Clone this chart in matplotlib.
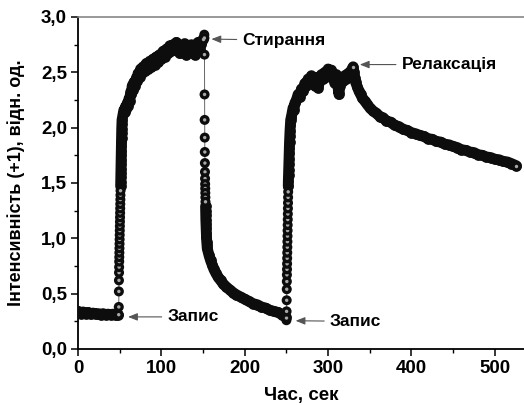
import numpy as np
import matplotlib.pyplot as plt
from matplotlib.ticker import MultipleLocator, FixedLocator, FixedFormatter

plt.rcParams['font.family'] = ['Liberation Sans', 'DejaVu Sans']
plt.rcParams['font.weight'] = 'bold'

# -----------------------------
# data (time in s, intensity in rel. units)
t_base = [0, 3, 6, 9, 12, 15, 18, 21, 24, 27, 30, 33, 36, 39, 42, 45, 48]
v_base = [0.34, 0.32, 0.335, 0.32, 0.33, 0.315, 0.325, 0.315, 0.32, 0.31, 0.32,
          0.31, 0.315, 0.31, 0.315, 0.305, 0.31]

t_rise1 = [48.8, 48.9, 49.0, 49.1, 49.2, 49.3, 49.4, 49.5, 49.6, 49.7, 49.8, 49.9,
           50.0, 50.1, 50.2, 50.3, 50.4, 50.5, 50.6, 50.7, 50.8, 50.9, 51.0, 51.1,
           51.2, 51.3, 51.4, 51.5, 51.6, 51.7, 51.8, 51.9, 52.0, 52.1, 52.2, 52.3,
           52.4, 52.6, 52.8]
v_rise1 = [0.31, 0.38, 0.52, 0.62, 0.69, 0.74, 0.79, 0.83, 0.87, 0.91, 0.95, 0.99,
           1.03, 1.07, 1.11, 1.15, 1.19, 1.23, 1.27, 1.31, 1.35, 1.39, 1.43, 1.47,
           1.51, 1.55, 1.59, 1.63, 1.67, 1.71, 1.75, 1.79, 1.83, 1.87, 1.91, 1.95,
           1.99, 2.03, 2.07]

t_plat1 = [54, 55, 56, 57, 58, 59, 60, 61, 62, 63, 64, 65, 66, 67, 68, 70, 71, 72,
           74, 75, 77, 78, 80, 82, 84, 86, 88, 90, 92, 94, 96, 98, 100, 102, 104,
           106, 108, 110, 112, 114, 116, 118, 120, 122, 124, 126, 128, 130, 132,
           134, 136, 138, 140, 142, 144, 146, 148, 150]
v_plat1 = [2.12, 2.16, 2.14, 2.19, 2.17, 2.22, 2.20, 2.26, 2.24, 2.32, 2.30, 2.38,
           2.34, 2.41, 2.38, 2.45, 2.42, 2.49, 2.46, 2.53, 2.49, 2.55, 2.51, 2.58,
           2.53, 2.60, 2.55, 2.62, 2.57, 2.64, 2.59, 2.66, 2.62, 2.69, 2.64, 2.71,
           2.67, 2.74, 2.69, 2.75, 2.70, 2.77, 2.72, 2.67, 2.74, 2.70, 2.76, 2.66,
           2.72, 2.69, 2.75, 2.71, 2.66, 2.73, 2.77, 2.70, 2.76, 2.80]

t_drop = [151.5, 151.6, 151.7, 151.8, 151.9, 152.0, 152.1, 152.2, 152.3, 152.4,
          152.5, 152.6, 152.7, 152.8, 152.9, 153.0, 153.1, 153.2, 153.3, 153.5,
          153.7, 153.9, 154.1, 154.4, 154.7, 155, 157, 159, 161, 163, 165, 168,
          171, 174, 178, 182, 186, 190, 195, 200, 205, 210, 215, 220, 225, 230,
          235, 240, 245, 249]
v_drop = [2.84, 2.81, 2.66, 2.30, 2.07, 1.91, 1.78, 1.68, 1.60, 1.54, 1.49, 1.45,
          1.41, 1.37, 1.33, 1.29, 1.25, 1.21, 1.17, 1.13, 1.09, 1.05, 1.01, 0.97,
          0.94, 0.91, 0.85, 0.80, 0.76, 0.72, 0.69, 0.65, 0.62, 0.59, 0.56, 0.535,
          0.51, 0.49, 0.47, 0.45, 0.43, 0.41, 0.40, 0.38, 0.37, 0.35, 0.34, 0.33,
          0.31, 0.29]

t_rise2 = [250.0, 250.1, 250.2, 250.3, 250.4, 250.5, 250.6, 250.7, 250.8, 250.9,
           251.0, 251.1, 251.2, 251.3, 251.4, 251.5, 251.6, 251.7, 251.8, 251.9,
           252.0, 252.1, 252.2, 252.3, 252.5, 252.7, 252.9, 253.1, 253.3, 253.5,
           253.7, 254.0, 254.3, 254.7, 255.1]
v_rise2 = [0.26, 0.28, 0.34, 0.44, 0.54, 0.61, 0.67, 0.72, 0.77, 0.82, 0.87, 0.92,
           0.97, 1.02, 1.07, 1.12, 1.17, 1.22, 1.27, 1.32, 1.37, 1.42, 1.47, 1.52,
           1.57, 1.62, 1.67, 1.72, 1.77, 1.82, 1.87, 1.92, 1.97, 2.02, 2.07]

t_plat2 = [256, 257, 258, 259, 260, 262, 264, 266, 268, 270, 272, 274, 276, 278,
           280, 282, 284, 286, 288, 290, 292, 294, 296, 298, 300, 302, 304, 306,
           308, 310, 311, 312, 313, 314, 316, 318, 320, 322, 324, 326, 328, 330]
v_plat2 = [2.10, 2.14, 2.18, 2.16, 2.22, 2.25, 2.30, 2.28, 2.35, 2.33, 2.40, 2.38,
           2.44, 2.41, 2.47, 2.43, 2.38, 2.45, 2.36, 2.43, 2.48, 2.44, 2.50, 2.46,
           2.53, 2.49, 2.52, 2.46, 2.40, 2.48, 2.43, 2.36, 2.30, 2.38, 2.45, 2.42,
           2.47, 2.44, 2.49, 2.46, 2.52, 2.55]

t_relax = [331, 332, 333, 335, 337, 339, 341, 344, 347, 350, 354, 358, 362, 366,
           370, 375, 380, 385, 390, 395, 400, 405, 410, 415, 420, 425, 430, 435,
           440, 445, 450, 455, 460, 465, 470, 475, 480, 485, 490, 495, 500, 505,
           510, 515, 520, 526]
v_relax = [2.50, 2.45, 2.41, 2.37, 2.33, 2.30, 2.27, 2.24, 2.21, 2.18, 2.15, 2.13,
           2.10, 2.09, 2.06, 2.05, 2.02, 2.01, 1.985, 1.975, 1.955, 1.945, 1.93,
           1.92, 1.90, 1.895, 1.875, 1.87, 1.85, 1.845, 1.83, 1.82, 1.80, 1.795,
           1.78, 1.775, 1.755, 1.75, 1.735, 1.73, 1.715, 1.71, 1.695, 1.69, 1.675,
           1.655]

x_ticks = [0, 100, 200, 300, 400, 500]
x_ticklabels = ['0', '100', '200', '300', '400', '500']
y_ticks = [0.0, 0.5, 1.0, 1.5, 2.0, 2.5, 3.0]
y_ticklabels = ['0,0', '0,5', '1,0', '1,5', '2,0', '2,5', '3,0']

# labels: (text, arrow tip x, tip y, text x, text y)
notes = [
    ('Стирання', 160, 2.80, 197, 2.79),
    ('Релаксація', 338, 2.57, 388, 2.57),
    ('Запис', 60, 0.29, 107, 0.29),
    ('Запис', 261, 0.255, 302, 0.25),
]

# -----------------------------
t_all = np.concatenate([t_base, t_rise1, t_plat1, t_drop, t_rise2, t_plat2, t_relax])
v_all = np.concatenate([v_base, v_rise1, v_plat1, v_drop, v_rise2, v_plat2, v_relax])

# parts where the points sit so close that they merge into a solid band
t_r1, v_r1 = np.array(t_rise1), np.array(v_rise1)
t_dr, v_dr = np.array(t_drop), np.array(v_drop)
t_r2, v_r2 = np.array(t_rise2), np.array(v_rise2)
bands = [
    (np.array(t_base), np.array(v_base)),
    (np.concatenate([t_r1[v_r1 > 1.45], t_plat1]), np.concatenate([v_r1[v_r1 > 1.45], v_plat1])),
    (t_dr[t_dr >= 153], v_dr[t_dr >= 153]),
    (np.concatenate([t_r2[v_r2 > 1.45], t_plat2, t_relax]),
     np.concatenate([v_r2[v_r2 > 1.45], v_plat2, v_relax])),
]
# steep parts drawn as single balls with a highlight
t_jump = np.concatenate([t_r1[v_r1 <= 1.45], t_dr[t_dr < 153], t_r2[v_r2 <= 1.45]])
v_jump = np.concatenate([v_r1[v_r1 <= 1.45], v_dr[t_dr < 153], v_r2[v_r2 <= 1.45]])

fig = plt.figure(figsize=(5.24, 4.05), dpi=100)
ax = fig.add_axes([0.1489, 0.1383, 0.8511, 0.8198])

ax.plot(t_all, v_all, color='#666666', lw=0.7, zorder=1)

for bt, bv in bands:
    ax.plot(bt, bv, color='#0d0d0d', lw=7.8, solid_capstyle='round',
            solid_joinstyle='round', zorder=2)
    ax.scatter(bt, bv, s=60, c='#0d0d0d', linewidths=0, zorder=3)

# dark ball followed by its highlight, so later balls cover earlier highlights
n = len(t_jump)
ax.scatter(np.repeat(t_jump, 2), np.repeat(v_jump, 2),
           s=np.tile([52, 6], n), c=np.tile(['#0d0d0d', '#a8a8a8'], n),
           linewidths=0, zorder=4)
ax.scatter([t_relax[-1], t_plat2[-1], t_plat1[-1]], [v_relax[-1], v_plat2[-1], v_plat1[-1]],
           s=6, c='#a8a8a8', linewidths=0, zorder=5)

for txt, xt, yt, xx, yy in notes:
    ax.annotate(txt, xy=(xt, yt), xytext=(xx, yy), ha='left', va='center',
                fontsize=12.5, fontweight='bold',
                arrowprops=dict(arrowstyle='-|>,head_length=0.45,head_width=0.18',
                                color='#555555', lw=0.8, shrinkA=2, shrinkB=0))

ax.set_xlim(0, 535)
ax.set_ylim(0, 3.0)
ax.xaxis.set_major_locator(FixedLocator(x_ticks))
ax.xaxis.set_major_formatter(FixedFormatter(x_ticklabels))
ax.yaxis.set_major_locator(FixedLocator(y_ticks))
ax.yaxis.set_major_formatter(FixedFormatter(y_ticklabels))
ax.xaxis.set_minor_locator(MultipleLocator(50))
ax.yaxis.set_minor_locator(MultipleLocator(0.25))
ax.tick_params(which='major', direction='out', length=5, width=1.1,
               labelsize=13.5, pad=3)
ax.tick_params(which='minor', direction='out', length=3, width=1.0)
for lab in ax.get_xticklabels() + ax.get_yticklabels():
    lab.set_fontweight('bold')

ax.spines['right'].set_visible(False)
ax.spines['top'].set_color('#888888')
ax.spines['top'].set_linewidth(1.2)
ax.spines['left'].set_linewidth(1.3)
ax.spines['bottom'].set_linewidth(1.3)

ax.set_xlabel('Час, сек', fontsize=13.5, fontweight='bold', labelpad=7)
ax.set_ylabel('Інтенсивність (+1), відн. од.', fontsize=13, fontweight='bold')
ax.yaxis.set_label_coords(-0.12, 0.5)

fig.savefig('out.png', dpi=100)
